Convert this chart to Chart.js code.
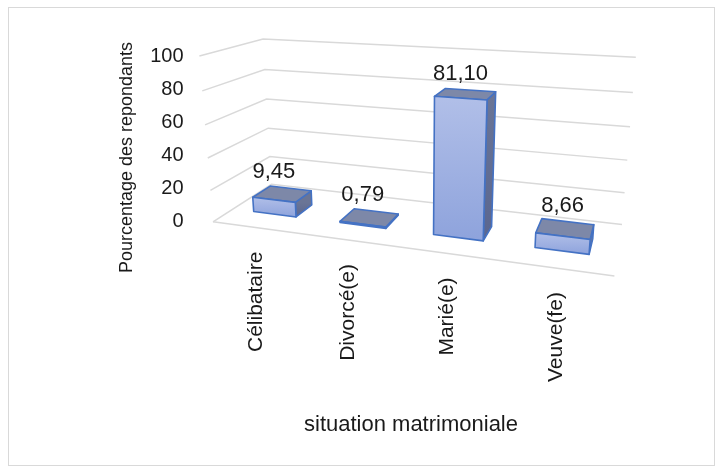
<!DOCTYPE html>
<html>
<head>
<meta charset="utf-8">
<script src="https://cdn.jsdelivr.net/npm/chart.js@4/dist/chart.umd.min.js"></script>
<style>
  html, body { margin: 0; padding: 0; background: #ffffff; }
  #wrap { width: 723px; height: 473px; }
</style>
</head>
<body>
<div id="wrap"><canvas id="chart" width="723" height="473"></canvas></div>
<script>
// Data
const categories = ['Célibataire', 'Divorcé(e)', 'Marié(e)', 'Veuve(fe)'];
const percentages = [9.45, 0.79, 81.10, 8.66];
const yMin = 0;
const yMax = 100;
const yStep = 20;
const yTitle = 'Pourcentage des repondants';
const xTitle = 'situation matrimoniale';

// 3-D view: rotation angles (degrees), camera distance and box proportions in world units
const VIEW = {
  yaw: 18, pitch: 16, distance: 7,
  worldW: 3.85, worldH: 1.65, worldD: 1.18,
  barWidth: 0.5,      // share of a category
  barDepth: 0.36,     // world units
  barCenterZ: 0.55,   // depth of the bar row, from the front edge
  inset: 17.5         // px between plot-area left edge and the floor's front corner
};

const FONT = "'Liberation Sans', Arial, sans-serif";
const TEXT = '#1a1a1a';
const GRID = '#d9d9d9';
const EDGE = '#4472c4';

const fmt = v => v.toFixed(2).replace('.', ',');

function makeProjector(chart) {
  const xs = chart.scales.x, ys = chart.scales.y;
  const { yaw, pitch, distance, worldW, worldH, worldD } = VIEW;
  const cY = Math.cos(yaw * Math.PI / 180), sY = Math.sin(yaw * Math.PI / 180);
  const cP = Math.cos(pitch * Math.PI / 180), sP = Math.sin(pitch * Math.PI / 180);
  // X: left→right, Y: floor→up, Z: front→back
  function raw(X, Y, Z) {
    const x = X - worldW / 2, y = Y - worldH / 2, z = worldD / 2 - Z;
    const xr = x * cY - z * sY;
    const zr = z * cY + x * sY;
    const yr = y * cP - zr * sP;
    const z2 = zr * cP + y * sP;
    const f = distance / (distance - z2);
    return [xr * f, -yr * f];
  }
  // the front-left edge of the box spans the value axis
  const e = raw(0, 0, 0), t = raw(0, worldH, 0);
  const k = (ys.bottom - ys.top) / (e[1] - t[1]);
  const ox = xs.left + VIEW.inset - k * e[0];
  const oy = ys.bottom - k * e[1];
  const P = (X, Y, Z) => { const r = raw(X, Y, Z); return { x: ox + k * r[0], y: oy + k * r[1] }; };
  const worldX = px => (px - xs.left) / xs.width * worldW;
  const worldY = v => (ys.bottom - ys.getPixelForValue(v)) / ys.height * worldH;
  return { P, worldX, worldY };
}

function poly(ctx, pts) {
  ctx.beginPath();
  ctx.moveTo(pts[0].x, pts[0].y);
  for (let i = 1; i < pts.length; i++) ctx.lineTo(pts[i].x, pts[i].y);
  ctx.closePath();
}

const frame = {
  id: 'frame',
  beforeDraw(chart) {
    const ctx = chart.ctx;
    ctx.save();
    ctx.fillStyle = '#ffffff';
    ctx.fillRect(0, 0, chart.width, chart.height);
    ctx.strokeStyle = GRID;
    ctx.lineWidth = 1;
    ctx.strokeRect(8.5, 7.5, chart.width - 17, chart.height - 15);
    ctx.restore();
  }
};

const scene3d = {
  id: 'scene3d',
  afterDatasetsDraw(chart) {
    const ctx = chart.ctx;
    const xs = chart.scales.x, ys = chart.scales.y;
    const { P, worldX, worldY } = makeProjector(chart);
    const W = VIEW.worldW, H = VIEW.worldH, D = VIEW.worldD;
    ctx.save();

    // walls: side wall and back wall gridlines
    ctx.strokeStyle = GRID;
    ctx.lineWidth = 1.5;
    ys.ticks.forEach(tk => {
      const Y = worldY(tk.value);
      const a = P(0, Y, 0), b = P(0, Y, D), c = P(W, Y, D);
      ctx.beginPath();
      ctx.moveTo(a.x, a.y); ctx.lineTo(b.x, b.y); ctx.lineTo(c.x, c.y);
      ctx.stroke();
    });
    // floor front edge (category axis)
    const f0 = P(0, 0, 0), f1 = P(W, 0, 0);
    ctx.beginPath(); ctx.moveTo(f0.x, f0.y); ctx.lineTo(f1.x, f1.y); ctx.stroke();

    // value-axis title, centred on the height of the box
    const boxTop = Math.min(P(0, H, 0).y, P(0, H, D).y, P(W, H, D).y);
    const boxBottom = Math.max(f0.y, f1.y);
    ctx.save();
    ctx.translate(ys.left - 18, (boxTop + boxBottom) / 2);
    ctx.rotate(-Math.PI / 2);
    ctx.fillStyle = TEXT;
    ctx.font = '18px ' + FONT;
    ctx.textAlign = 'center';
    ctx.textBaseline = 'middle';
    ctx.fillText(yTitle, 0, 0);
    ctx.restore();

    // bars
    const catW = worldX(xs.getPixelForValue(1)) - worldX(xs.getPixelForValue(0));
    const half = VIEW.barWidth * catW / 2;
    const z0 = VIEW.barCenterZ - VIEW.barDepth / 2, z1 = VIEW.barCenterZ + VIEW.barDepth / 2;
    const meta = chart.getDatasetMeta(0);
    const values = chart.data.datasets[0].data;

    meta.data.forEach((el, i) => {
      const cx = worldX(xs.getPixelForValue(i));
      const x0 = cx - half, x1 = cx + half;
      const Y1 = worldY(values[i]);

      const front = [P(x0, 0, z0), P(x1, 0, z0), P(x1, Y1, z0), P(x0, Y1, z0)];
      const side = [P(x1, 0, z0), P(x1, 0, z1), P(x1, Y1, z1), P(x1, Y1, z0)];
      const top = [P(x0, Y1, z0), P(x1, Y1, z0), P(x1, Y1, z1), P(x0, Y1, z1)];

      ctx.lineJoin = 'round';
      ctx.lineWidth = 1.6;
      ctx.strokeStyle = EDGE;

      // right face
      let g = ctx.createLinearGradient(0, side[3].y, 0, side[0].y);
      g.addColorStop(0, '#6a7596');
      g.addColorStop(1, '#5a6690');
      poly(ctx, side); ctx.fillStyle = g; ctx.fill(); ctx.stroke();

      // top face
      poly(ctx, top); ctx.fillStyle = '#7d88a8'; ctx.fill(); ctx.stroke();

      // front face
      g = ctx.createLinearGradient(0, Math.min(front[2].y, front[3].y), 0, Math.max(front[0].y, front[1].y));
      g.addColorStop(0, '#b1bfe8');
      g.addColorStop(1, '#8ea3dc');
      poly(ctx, front); ctx.fillStyle = g; ctx.fill(); ctx.stroke();

      // value label
      const lx = P(cx, Y1, z0).x, ly = P(cx, Y1, z1).y - 5;
      ctx.fillStyle = TEXT;
      ctx.font = '22px ' + FONT;
      ctx.textAlign = 'center';
      ctx.textBaseline = 'bottom';
      ctx.fillText(fmt(values[i]), lx, ly);

      // category label, standing upright under the floor edge
      const fp = P(cx, 0, 0);
      ctx.save();
      ctx.font = '21px ' + FONT;
      ctx.translate(fp.x, fp.y + 24);
      ctx.rotate(-Math.PI / 2);
      ctx.textAlign = 'right';
      ctx.textBaseline = 'middle';
      ctx.fillText(chart.data.labels[i], 0, 0);
      ctx.restore();
    });
    ctx.restore();
  }
};

new Chart(document.getElementById('chart'), {
  type: 'bar',
  data: {
    labels: categories,
    datasets: [{
      data: percentages,
      backgroundColor: 'rgba(0,0,0,0)',
      borderWidth: 0
    }]
  },
  options: {
    responsive: false,
    animation: false,
    devicePixelRatio: 1,
    layout: { padding: { left: 145.5, right: 96.5, top: 56, bottom: 30.4 } },
    plugins: { legend: { display: false }, tooltip: { enabled: false } },
    scales: {
      x: {
        grid: { display: false, drawTicks: false },
        border: { display: false },
        ticks: { display: false },
        title: {
          display: true, text: xTitle, color: TEXT,
          font: { family: FONT, size: 22 },
          padding: { top: 190.4, bottom: 4 }
        }
      },
      y: {
        min: yMin, max: yMax,
        grid: { display: false, drawTicks: false },
        border: { display: false },
        ticks: { stepSize: yStep, color: TEXT, padding: 12, font: { family: FONT, size: 20 } },
        afterFit(scale) { scale.width = 50; }
      }
    }
  },
  plugins: [frame, scene3d]
});
</script>
</body>
</html>
